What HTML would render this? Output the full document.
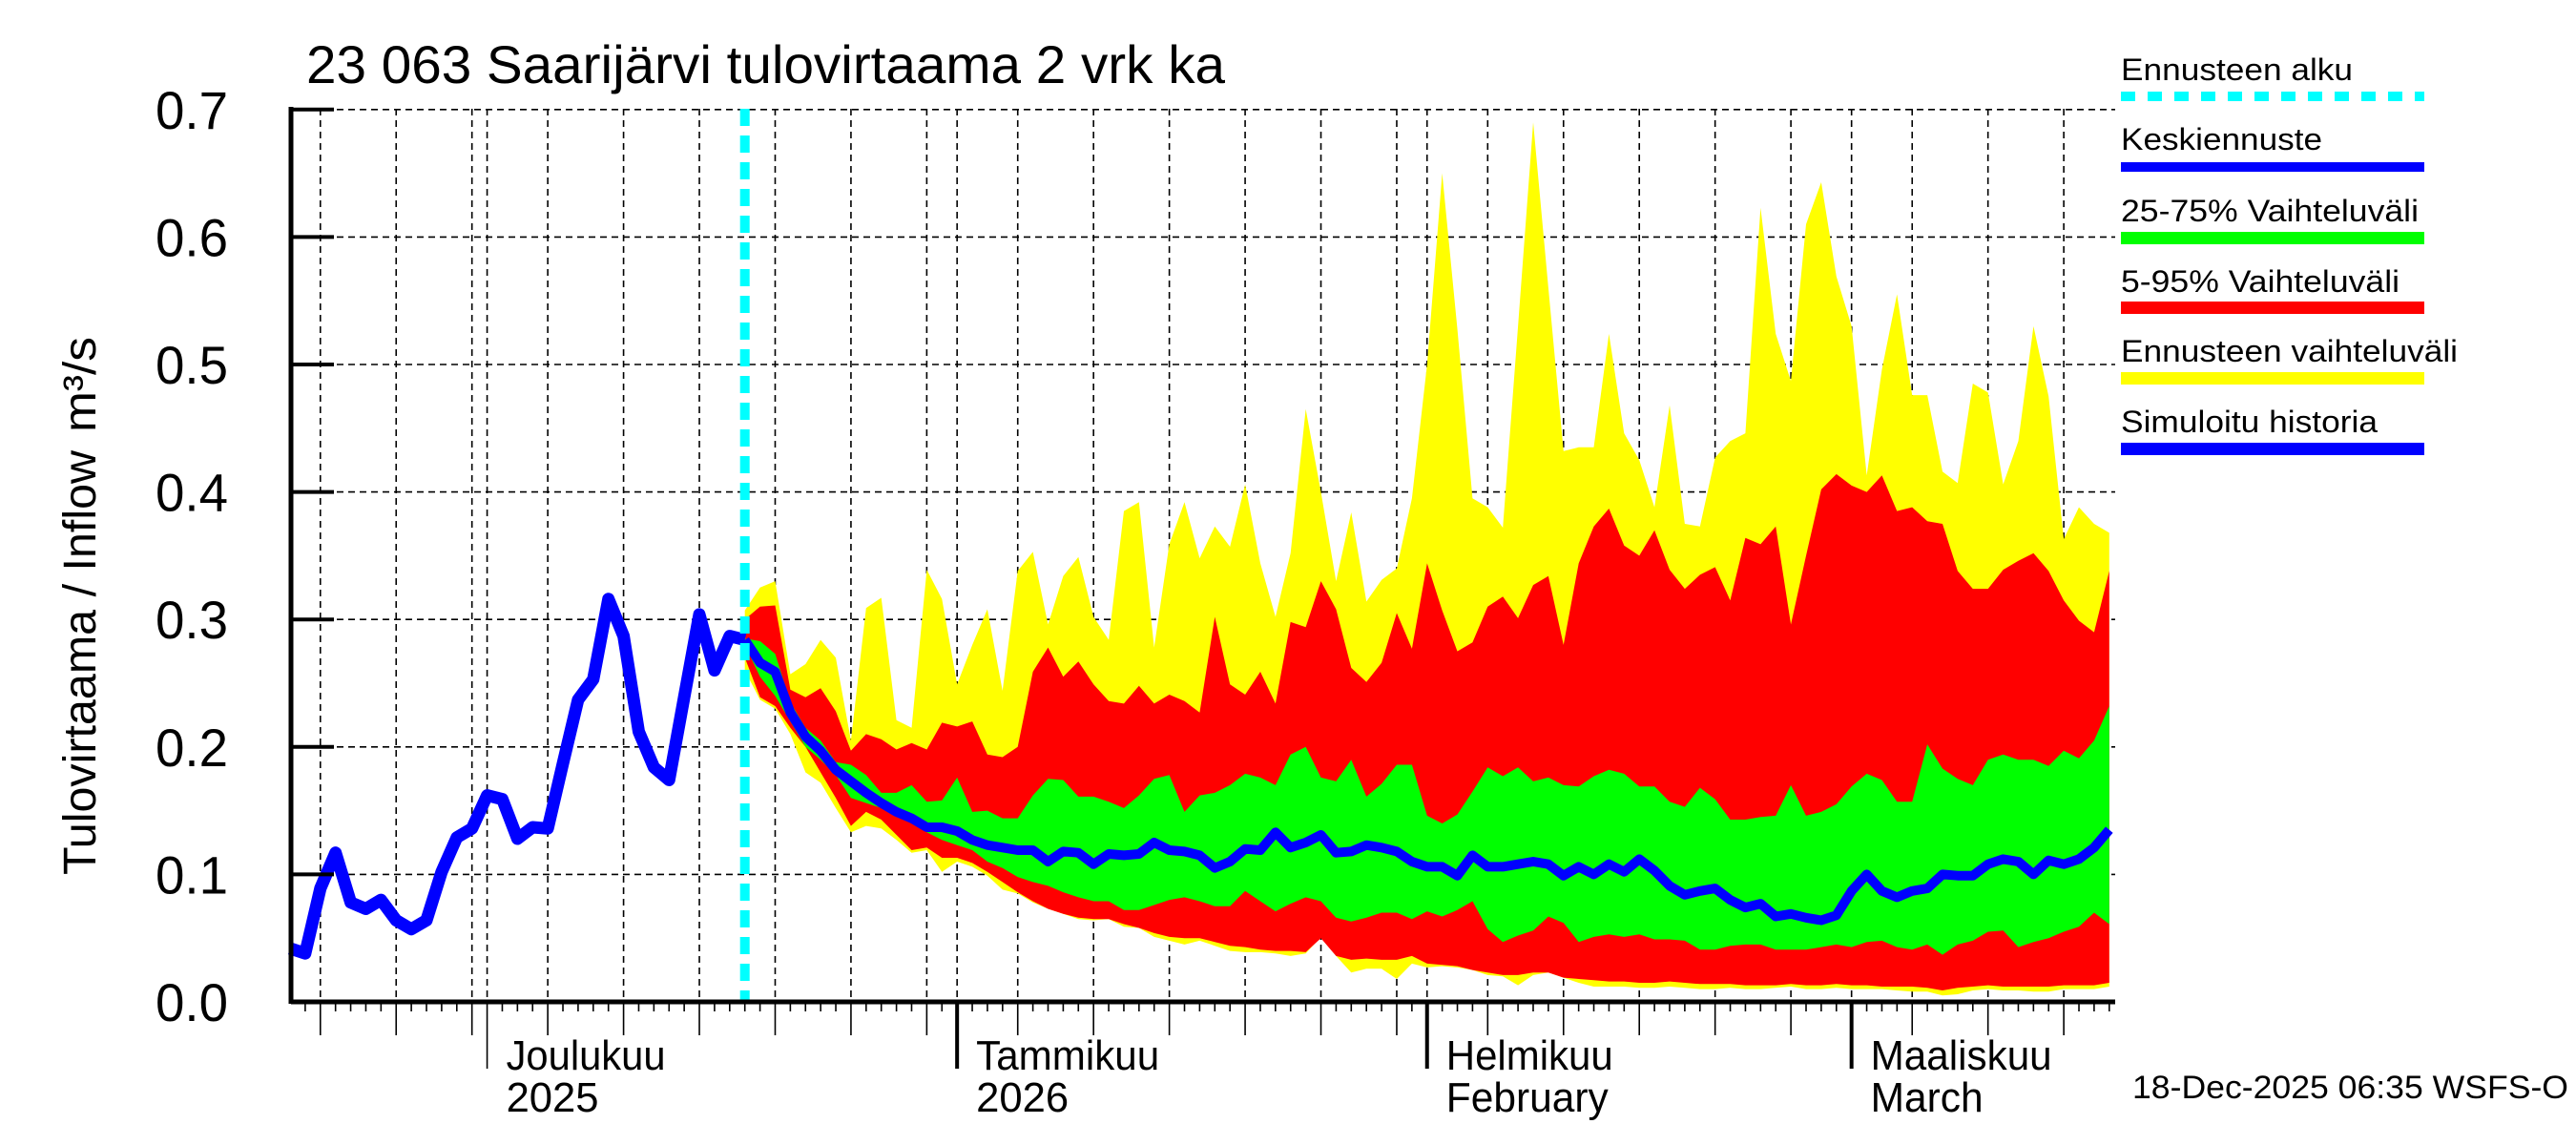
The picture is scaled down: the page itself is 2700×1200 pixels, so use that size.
<!DOCTYPE html>
<html><head><meta charset="utf-8"><style>
html,body{margin:0;padding:0;background:#fff;}
svg{display:block;font-family:"Liberation Sans",sans-serif;}
</style></head><body>
<svg id="chart" xmlns="http://www.w3.org/2000/svg" width="2700" height="1200" viewBox="0 0 2700 1200">
<rect x="0" y="0" width="2700" height="1200" fill="#fff"/>
<g id="grid"></g>
<g id="bands"></g>
<g id="lines"></g>
<g id="axes"></g>
<text x="321" y="87" font-size="56" textLength="963" lengthAdjust="spacingAndGlyphs">23 063 Saarijärvi tulovirtaama 2 vrk ka</text>
<text transform="translate(100,917) rotate(-90)" font-size="48" textLength="445" lengthAdjust="spacingAndGlyphs">Tulovirtaama / Inflow</text>
<text transform="translate(100,453) rotate(-90)" font-size="48" textLength="100" lengthAdjust="spacingAndGlyphs">m³/s</text>
<g font-size="32">
<text x="2223" y="84" textLength="243" lengthAdjust="spacingAndGlyphs">Ennusteen alku</text>
<line x1="2223" y1="101" x2="2541" y2="101" stroke="#00ffff" stroke-width="10" stroke-dasharray="15 13"/>
<text x="2223" y="157" textLength="211" lengthAdjust="spacingAndGlyphs">Keskiennuste</text>
<rect x="2223" y="170" width="318" height="10" fill="#0000ff"/>
<text x="2223" y="232" textLength="312" lengthAdjust="spacingAndGlyphs">25-75% Vaihteluväli</text>
<rect x="2223" y="243" width="318" height="13" fill="#00ff00"/>
<text x="2223" y="306" textLength="292" lengthAdjust="spacingAndGlyphs">5-95% Vaihteluväli</text>
<rect x="2223" y="316" width="318" height="13" fill="#ff0000"/>
<text x="2223" y="379" textLength="353" lengthAdjust="spacingAndGlyphs">Ennusteen vaihteluväli</text>
<rect x="2223" y="390" width="318" height="13" fill="#ffff00"/>
<text x="2223" y="453" textLength="269" lengthAdjust="spacingAndGlyphs">Simuloitu historia</text>
<rect x="2223" y="464" width="318" height="13" fill="#0000ff"/>
</g>
<text x="2235" y="1151" font-size="34" textLength="457" lengthAdjust="spacingAndGlyphs">18-Dec-2025 06:35 WSFS-O</text>
</svg>
<script>
// ---- data (day index 0 = 18 Nov 2025) ----
const histValues = [.042,.038,.089,.117,.078,.073,.080,.064,.057,.064,.102,.129,.136,.162,.159,.128,.137,.136,.187,.237,.253,.316,.287,.212,.184,.174,.239,.304,.260,.287,.284];
const forecastStartDay = 30;
const medianValues = [.284,.266,.259,.227,.208,.197,.182,.173,.164,.156,.149,.144,.137,.137,.134,.127,.123,.121,.119,.119,.110,.118,.117,.108,.116,.115,.116,.125,.119,.118,.115,.105,.110,.120,.119,.133,.121,.125,.131,.117,.118,.123,.121,.118,.110,.106,.106,.099,.115,.106,.106,.108,.110,.108,.099,.106,.100,.108,.102,.112,.103,.091,.084,.087,.089,.080,.074,.077,.067,.069,.066,.064,.068,.087,.100,.087,.082,.087,.089,.100,.099,.099,.108,.112,.110,.100,.111,.108,.112,.121,.135];
const maxValues = [.307,.325,.33,.257,.265,.284,.27,.205,.309,.317,.221,.215,.339,.316,.249,.28,.308,.244,.338,.353,.296,.334,.349,.302,.284,.385,.392,.278,.359,.392,.348,.373,.357,.406,.344,.302,.352,.465,.40,.33,.384,.314,.331,.34,.395,.50,.65,.528,.395,.388,.372,.53,.69,.56,.432,.435,.435,.524,.446,.425,.388,.468,.375,.373,.427,.44,.446,.623,.524,.487,.61,.643,.569,.53,.413,.496,.555,.476,.476,.416,.407,.485,.478,.406,.44,.53,.475,.363,.388,.375,.368];
const p95Values = [.30,.31,.311,.245,.239,.246,.228,.197,.21,.206,.198,.203,.198,.219,.216,.22,.194,.192,.2,.259,.278,.255,.267,.249,.236,.234,.248,.234,.241,.236,.227,.302,.249,.241,.259,.234,.298,.294,.33,.308,.262,.251,.266,.305,.277,.344,.307,.275,.282,.31,.318,.301,.327,.334,.28,.344,.373,.387,.358,.35,.37,.339,.324,.335,.341,.315,.364,.359,.373,.296,.35,.402,.414,.405,.40,.413,.385,.388,.377,.375,.338,.324,.324,.339,.346,.352,.338,.315,.299,.29,.338];
const p75Values = [.285,.283,.273,.235,.215,.205,.188,.186,.178,.164,.164,.17,.157,.158,.176,.149,.15,.144,.144,.162,.175,.174,.161,.161,.157,.152,.162,.175,.178,.149,.162,.164,.17,.179,.176,.17,.194,.2,.176,.173,.19,.161,.171,.186,.186,.146,.14,.147,.165,.184,.177,.184,.173,.176,.17,.169,.177,.182,.179,.169,.169,.157,.153,.168,.159,.143,.143,.145,.146,.17,.146,.149,.155,.169,.179,.174,.157,.157,.202,.183,.175,.17,.19,.194,.19,.19,.185,.197,.191,.205,.232];
const p25Values = [.28,.255,.24,.22,.2,.19,.178,.16,.156,.152,.147,.141,.133,.127,.123,.119,.11,.105,.098,.094,.091,.086,.082,.079,.079,.072,.072,.076,.08,.082,.079,.075,.075,.087,.079,.071,.077,.082,.079,.066,.063,.066,.07,.07,.065,.071,.067,.072,.079,.057,.047,.052,.056,.067,.062,.047,.051,.053,.051,.053,.049,.049,.048,.041,.041,.044,.045,.045,.041,.041,.041,.043,.045,.043,.047,.048,.043,.041,.045,.037,.045,.048,.055,.056,.043,.047,.05,.055,.059,.07,.061];
const p5Values = [.27,.239,.232,.215,.2,.18,.16,.138,.149,.143,.131,.119,.121,.113,.113,.109,.102,.094,.086,.079,.073,.069,.066,.065,.065,.061,.058,.054,.051,.05,.05,.047,.044,.043,.041,.04,.04,.039,.05,.036,.033,.034,.033,.033,.036,.03,.029,.028,.025,.023,.021,.021,.023,.023,.019,.018,.017,.016,.016,.015,.015,.016,.015,.014,.014,.014,.013,.013,.013,.014,.013,.013,.014,.013,.013,.012,.012,.012,.011,.009,.011,.012,.013,.012,.012,.012,.012,.013,.013,.013,.015];
const minValues = [.26,.237,.23,.21,.18,.172,.152,.133,.138,.136,.127,.117,.119,.102,.11,.106,.099,.088,.085,.078,.073,.069,.065,.064,.065,.059,.058,.051,.048,.045,.048,.044,.04,.039,.039,.038,.036,.038,.051,.036,.023,.026,.026,.018,.03,.027,.028,.027,.025,.021,.02,.013,.021,.023,.019,.015,.012,.012,.012,.011,.011,.012,.011,.01,.01,.011,.01,.01,.011,.012,.01,.01,.011,.01,.01,.01,.009,.008,.008,.005,.006,.009,.01,.009,.009,.008,.008,.01,.01,.01,.012];
const yTickLabels = ["0.0","0.1","0.2","0.3","0.4","0.5","0.6","0.7"];
const monthStartDays = [13,44,75,103];
const monthLabels = [["Joulukuu","2025"],["Tammikuu","2026"],["Helmikuu","February"],["Maaliskuu","March"]];
const monthDays = [[18,30],[1,31],[1,31],[1,28],[1,18]];

// ---- axis functions ----
const X0 = 304, PX = 15.89, Y0 = 1050, PY = 1336;
const xs = d => X0 + d * PX;
const ys = v => Y0 - v * PY;
const LEFT = 305, RIGHT = 2217, TOP = 114;
const NS = "http://www.w3.org/2000/svg";
function mk(tag, attrs, parent) {
  const e = document.createElementNS(NS, tag);
  for (const k in attrs) e.setAttribute(k, attrs[k]);
  parent.appendChild(e);
  return e;
}
const grid = document.getElementById('grid');
const bands = document.getElementById('bands');
const lines = document.getElementById('lines');
const axes = document.getElementById('axes');

const dom = [];
monthDays.forEach(([a, b]) => { for (let k = a; k <= b; k++) dom.push(k); });

dom.forEach((m, d) => {
  const x = xs(d);
  if (x < LEFT || x > RIGHT) return;
  const isMonth = m === 1;
  const isGrid = isMonth || m % 5 === 0;
  if (isGrid) {
    const g = mk('line', {x1: x, y1: TOP, x2: x, y2: Y0, stroke: '#000', 'stroke-width': 1.6, 'stroke-dasharray': '7 5'}, grid);
    
    
  }
  const len = isMonth ? 70 : (m % 5 === 0 ? 35 : 10);
  const t = mk('line', {x1: x, y1: Y0, x2: x, y2: Y0 + len, stroke: '#000', 'stroke-width': (isMonth && d > 30) ? 4 : 1.6}, axes);
  
  
});

yTickLabels.forEach((lab, i) => {
  const v = i / 10, y = ys(v);
  if (i > 0) {
    const g = mk('line', {x1: LEFT, y1: y, x2: RIGHT, y2: y, stroke: '#000', 'stroke-width': 1.6, 'stroke-dasharray': '7 5'}, grid);
    
    
  }
  const t = mk('line', {x1: LEFT, y1: y, x2: LEFT + 45, y2: y, stroke: '#000', 'stroke-width': 4}, axes);
  
  
  const tx = mk('text', {x: 239, y: y + 20, 'font-size': 56, 'text-anchor': 'end', textLength: 76, lengthAdjust: 'spacingAndGlyphs'}, axes);
  tx.textContent = lab;
  
  
});

monthStartDays.forEach((d, i) => {
  const x = xs(d) + 20;
  const w1 = [167, 192, 175, 190][i], w2 = [97, 97, 170, 118][i];
  const a = mk('text', {x: x, y: 1121, 'font-size': 44, textLength: w1, lengthAdjust: 'spacingAndGlyphs'}, axes);
  a.textContent = monthLabels[i][0];
  
  
  const b = mk('text', {x: x, y: 1165, 'font-size': 44, textLength: w2, lengthAdjust: 'spacingAndGlyphs'}, axes);
  b.textContent = monthLabels[i][1];
  
  
});

function band(lo, hi, color, name) {
  const pts = [];
  hi.forEach((v, i) => pts.push(xs(forecastStartDay + i).toFixed(1) + ',' + ys(v).toFixed(1)));
  for (let i = lo.length - 1; i >= 0; i--) pts.push(xs(forecastStartDay + i).toFixed(1) + ',' + ys(lo[i]).toFixed(1));
  const p = mk('polygon', {points: pts.join(' '), fill: color}, bands);
  
  
}
band(minValues, maxValues, '#ffff00', 'forecast-range-band');
band(p5Values, p95Values, '#ff0000', 'band-5-95');
band(p25Values, p75Values, '#00ff00', 'band-25-75');

function poly(vals, start, width, name) {
  const pts = vals.map((v, i) => xs(start + i).toFixed(1) + ',' + ys(v).toFixed(1)).join(' ');
  const p = mk('polyline', {points: pts, fill: 'none', stroke: '#0000ff', 'stroke-width': width, 'stroke-linejoin': 'round'}, lines);
  
  
}
poly(medianValues, forecastStartDay, 10, 'median-forecast-line');
poly(histValues, 0, 13, 'simulated-history-line');

const fx = xs(forecastStartDay);
const fl = mk('line', {x1: fx, y1: TOP, x2: fx, y2: Y0, stroke: '#00ffff', 'stroke-width': 10, 'stroke-dasharray': '18 10'}, lines);



const ya = mk('line', {x1: LEFT, y1: TOP - 2, x2: LEFT, y2: Y0 + 2, stroke: '#000', 'stroke-width': 5}, axes);


const xa = mk('line', {x1: LEFT, y1: Y0, x2: RIGHT, y2: Y0, stroke: '#000', 'stroke-width': 5}, axes);


</script>
</body></html>
